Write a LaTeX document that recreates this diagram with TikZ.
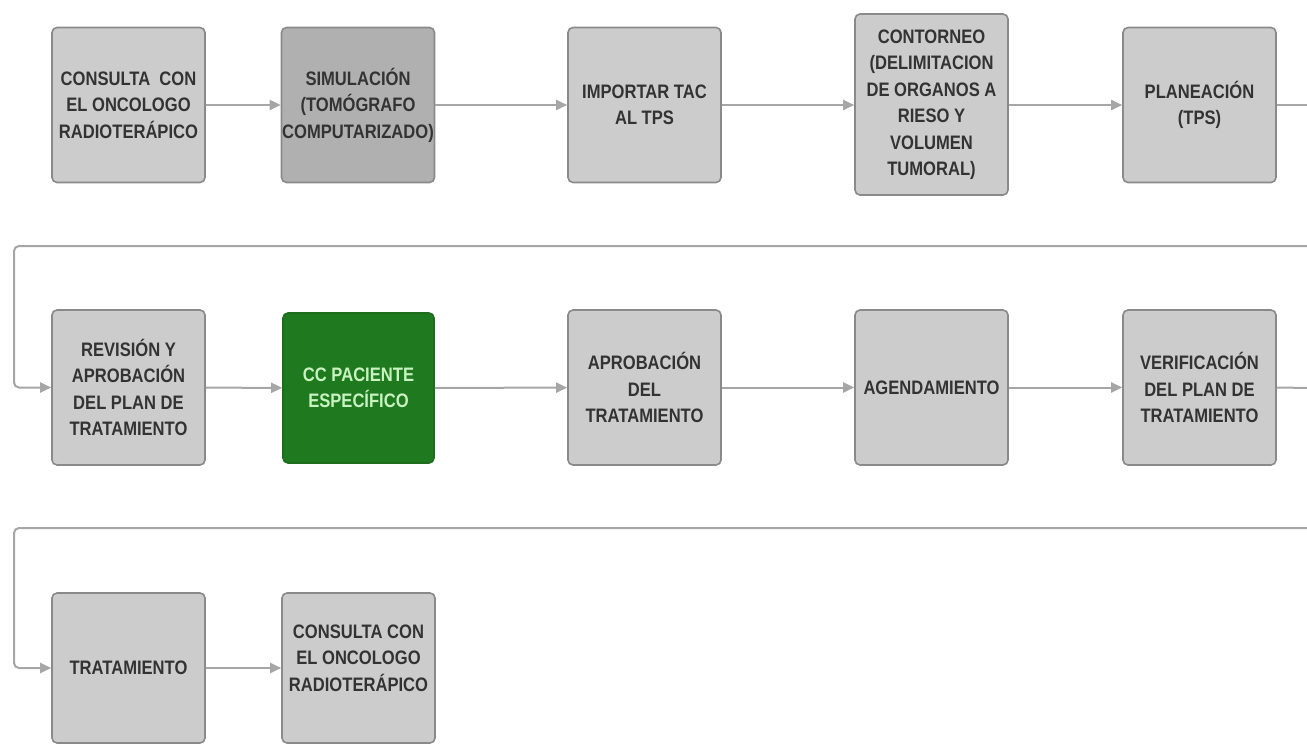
\documentclass[tikz,border=0pt]{standalone}
\usepackage{fontspec}
\setmainfont{Liberation Sans}[FakeStretch=0.85]
\usetikzlibrary{arrows.meta}
\definecolor{boxgray}{HTML}{CCCCCC}
\definecolor{boxdark}{HTML}{B0B0B0}
\definecolor{edgegray}{HTML}{8A8A8A}
\definecolor{linegray}{HTML}{A6A6A6}
\definecolor{txtgray}{HTML}{333333}
\definecolor{boxgreen}{HTML}{1F7A1F}
\definecolor{txtgreen}{HTML}{C8F2C0}
\tikzset{
  stepbox/.style={draw=edgegray, line width=1.6pt, fill=boxgray, rounded corners=5pt,
    minimum width=153pt, minimum height=155pt, inner sep=0pt, align=center,
    text=txtgray, font=\fontsize{19.5}{26.5}\selectfont\bfseries},
  darkbox/.style={stepbox, fill=boxdark},
  greenbox/.style={stepbox, draw=boxgreen!90!black, fill=boxgreen, text=txtgreen,
    minimum width=151pt, minimum height=150pt},
  flow/.style={draw=linegray, line width=2pt, -{Triangle[length=11pt,width=10pt]}},
  plain/.style={draw=linegray, line width=2pt, rounded corners=5pt}
}
\begin{document}
\begin{tikzpicture}[x=1pt,y=-1pt]
\useasboundingbox (0,0) rectangle (1307,744);
% row 1
\node[stepbox] (a1) at (128.5,105) {CONSULTA\ \ CON\\EL ONCOLOGO\\RADIOTER\'APICO};
\node[darkbox] (a2) at (358,105) {SIMULACI\'ON\\(TOM\'OGRAFO\\COMPUTARIZADO)};
\node[stepbox] (a3) at (644.5,105) {IMPORTAR TAC\\AL TPS};
\node[stepbox, minimum height=181pt] (a4) at (931.5,104.5) {CONTORNEO\\(DELIMITACION\\DE ORGANOS A\\RIESO Y\\VOLUMEN\\TUMORAL)};
\node[stepbox] (a5) at (1199.5,105) {PLANEACI\'ON\\(TPS)};
\coordinate (r1) at (1310,105);
\coordinate (r2) at (1310,246);
\coordinate (l2) at (14,246);
% row 2
\node[stepbox] (b1) at (128.5,387.5) {REVISI\'ON Y\\APROBACI\'ON\\DEL PLAN DE\\TRATAMIENTO};
\node[greenbox] (b2) at (358.5,388) {CC PACIENTE\\ESPEC\'IFICO};
\node[stepbox] (b3) at (644.5,387.5) {APROBACI\'ON\\DEL\\TRATAMIENTO};
\node[stepbox] (b4) at (931.5,387.5) {AGENDAMIENTO};
\node[stepbox] (b5) at (1199.5,387.5) {VERIFICACI\'ON\\DEL PLAN DE\\TRATAMIENTO};
\coordinate (r3) at (1310,388);
\coordinate (r4) at (1310,528);
\coordinate (l3) at (14,528);
% row 3
\node[stepbox, minimum height=150pt] (c1) at (128.5,668) {TRATAMIENTO};
\node[stepbox, minimum height=150pt] (c2) at (358.5,668) {CONSULTA CON\\EL ONCOLOGO\\RADIOTER\'APICO\\[-6pt]};
% connectors
\draw[flow] (a1) -- (a2);
\draw[flow] (a2) -- (a3);
\draw[flow] (a3.east) -- (a4.west |- a3.east);
\draw[flow] (a4.east |- a5.west) -- (a5.west);
\draw[plain] (a5.east) -- (r1);
\draw[plain, -{Triangle[length=11pt,width=10pt]}] (r2) -- (l2) -- (l2 |- b1.west) -- (b1.west);
\draw[flow] (b1) -- (b2);
\draw[flow] (b2) -- (b3);
\draw[flow] (b3) -- (b4);
\draw[flow] (b4) -- (b5);
\draw[plain] (b5.east) -- (r3);
\draw[plain, -{Triangle[length=11pt,width=10pt]}] (r4) -- (l3) -- (l3 |- c1.west) -- (c1.west);
\draw[flow] (c1) -- (c2);
\end{tikzpicture}
\end{document}
